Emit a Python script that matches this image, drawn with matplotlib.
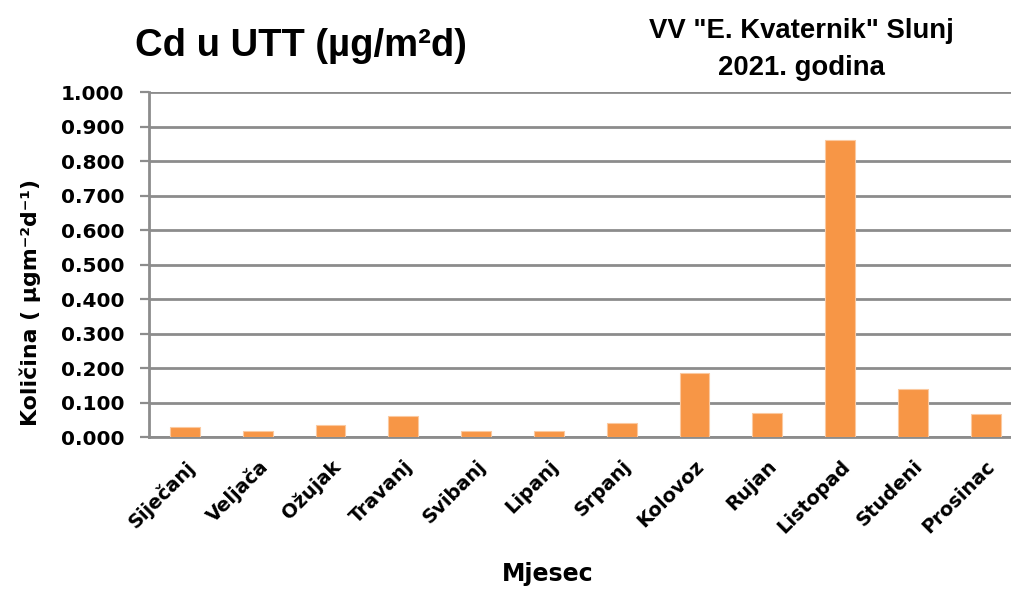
import matplotlib.pyplot as plt
import numpy as np

plt.rcParams['font.family'] = ['DejaVu Sans']
plt.rcParams['font.weight'] = 'bold'

MONTHS = ['Siječanj', 'Veljača', 'Ožujak', 'Travanj', 'Svibanj', 'Lipanj',
          'Srpanj', 'Kolovoz', 'Rujan', 'Listopad', 'Studeni', 'Prosinac']
CD_VALUES = [0.029, 0.018, 0.037, 0.063, 0.018, 0.018,
             0.041, 0.186, 0.070, 0.862, 0.141, 0.067]
Y_TICKS = [0.0, 0.1, 0.2, 0.3, 0.4, 0.5, 0.6, 0.7, 0.8, 0.9, 1.0]

BAR_COLOR = '#F79646'
GRID_COLOR = '#8C8C8C'
TITLE_FONT = ['Liberation Sans', 'DejaVu Sans']

fig = plt.figure(figsize=(10.12, 5.89), dpi=100)
W, H = 1012, 589
left, right, top, bottom = 148.6, 1022.0, 92.0, 437.3
ax = fig.add_axes([left / W, 1 - bottom / H, (right - left) / W, (bottom - top) / H])

x = np.arange(len(MONTHS))
ax.bar(x, CD_VALUES, width=0.41, color=BAR_COLOR, edgecolor='#FBC9A0', linewidth=0.8, zorder=3)

ax.set_xlim(-0.5, len(MONTHS) - 0.5)
ax.set_ylim(0, 1.0)
ax.set_yticks(Y_TICKS)
ax.set_yticklabels([f'{v:.3f}' for v in Y_TICKS], fontsize=14.5, fontweight='bold')
ax.set_xticks(x)
ax.set_xticklabels(MONTHS, rotation=45, ha='right', rotation_mode='anchor', fontsize=14, fontweight='bold')
ax.tick_params(axis='x', length=0, pad=14)
ax.tick_params(axis='y', length=6.5, width=1.6, color=GRID_COLOR, pad=11)

ax.grid(axis='y', color=GRID_COLOR, linewidth=2.0, zorder=0)
ax.set_axisbelow(True)
for side in ['top', 'right']:
    ax.spines[side].set_visible(False)
ax.spines['left'].set_color(GRID_COLOR)
ax.spines['left'].set_linewidth(2.0)
ax.spines['bottom'].set_color(GRID_COLOR)
ax.spines['bottom'].set_linewidth(2.0)

fig.text(135 / W, 1 - 46 / H, 'Cd u UTT (µg/m²d)', fontsize=27.5, fontweight='bold',
         family=TITLE_FONT, ha='left', va='center')
fig.text(801 / W, 1 - 31 / H, 'VV "E. Kvaternik" Slunj', fontsize=19.8, fontweight='bold',
         family=TITLE_FONT, ha='center', va='center')
fig.text(801 / W, 1 - 68 / H, '2021. godina', fontsize=19.8, fontweight='bold',
         family=TITLE_FONT, ha='center', va='center')

fig.text(30 / W, 1 - 302 / H, 'Količina ( µgm⁻²d⁻¹)', fontsize=15.8,
         fontweight='bold', rotation=90, ha='center', va='center')
fig.text(548 / W, 1 - 574 / H, 'Mjesec', fontsize=17, fontweight='bold', ha='center', va='center')

fig.savefig('out.png', dpi=100)
